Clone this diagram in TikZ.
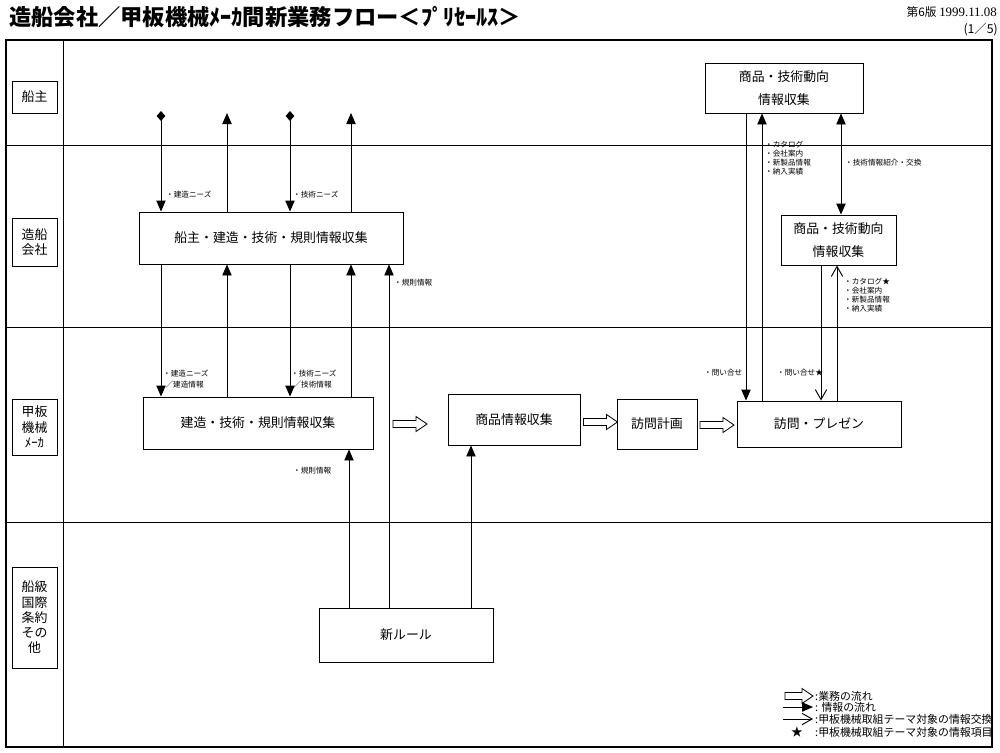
\documentclass[tikz,border=0pt]{standalone}
\usepackage{fontspec}
\setmainfont{Noto Sans CJK JP}
\newfontfamily\datefont{Liberation Serif}
\usetikzlibrary{arrows.meta}

\tikzset{
    pics/flowarrow/.style={code={
        \draw[line width=0.7pt, fill=white] (-#1,-3.5) -- (#1-11,-3.5) -- (#1-11,-7.5) -- (#1,0)
            -- (#1-11,7.5) -- (#1-11,3.5) -- (-#1,3.5) -- cycle;
    }}
}

\begin{document}
\begin{tikzpicture}[x=0.03cm, y=-0.03cm,
    proc/.style={rectangle, draw, line width=0.8pt, inner sep=0pt, align=center, font=\fontsize{11}{13}\selectfont},
    lane/.style={rectangle, draw, line width=0.6pt, minimum width=1.35cm, inner sep=0pt, align=center, font=\fontsize{11}{13}\selectfont},
    info/.style={-{Triangle[length=0.33cm,width=0.28cm]}, line width=0.8pt},
    both/.style={{Triangle[length=0.33cm,width=0.28cm]}-{Triangle[length=0.33cm,width=0.28cm]}, line width=0.8pt},
    need/.style={{Diamond[length=0.3cm,width=0.26cm]}-{Triangle[length=0.33cm,width=0.28cm]}, line width=0.8pt},
    xchg/.style={-{Straight Barb[length=0.3cm,width=0.34cm,line width=0.8pt]}, line width=0.8pt},
    note/.style={anchor=west, align=left, inner sep=0pt, font=\fontsize{6.5}{9.5}\selectfont},
    legend/.style={anchor=west, inner sep=0pt, font=\fontsize{9.3}{10}\selectfont}
]
    \useasboundingbox (0,0) rectangle (1000,753);

    % Frame
    \draw[line width=1pt] (6,40) rectangle (992,747);
    \draw[line width=0.8pt] (63,40) -- (63,747);
    \foreach \y in {145,327,522} \draw[line width=0.8pt] (6,\y) -- (992,\y);

    % Header
    \node[anchor=west, inner sep=0pt, font=\fontsize{19}{22}\selectfont\bfseries] (title) at (9,17) {造船会社／甲板機械ﾒｰｶ間新業務フロー＜ﾌﾟﾘｾｰﾙｽ＞};
    \node[anchor=east, inner sep=0pt, font=\fontsize{10}{12}\selectfont] (issue) at (997,12) {第6版 {\datefont\fontsize{11}{12}\selectfont 1999.11.08}};
    \node[anchor=east, inner sep=0pt, font=\fontsize{10.5}{12}\selectfont] (page) at (998,30) {(1／5)};

    % Lanes
    \node[lane, minimum height=0.96cm] (owner) at (34.5,97) {船主};
    \node[lane, minimum height=1.44cm] (yard) at (34.5,242) {造船\\会社};
    \node[lane, minimum height=1.68cm] (maker) at (34.5,427) {甲板\\機械\\ﾒｰｶ};
    \node[lane, minimum height=3.03cm] (rule) at (34.5,617.5) {船級\\国際\\条約\\その\\他};

    % Nodes
    \node[proc, minimum width=7.92cm, minimum height=1.56cm] (yardinfo) at (271,238) {船主・建造・技術・規則情報収集};
    \node[proc, minimum width=6.9cm, minimum height=1.56cm] (makerinfo) at (258,423) {建造・技術・規則情報収集};
    \node[proc, minimum width=3.96cm, minimum height=1.53cm] (goods) at (514,419.5) {商品情報収集};
    \node[proc, minimum width=2.4cm, minimum height=1.5cm] (plan) at (657,424) {訪問計画};
    \node[proc, minimum width=4.92cm, minimum height=1.38cm] (visit) at (819,424) {訪問・プレゼン};
    \node[proc, minimum width=5.22cm, minimum height=1.62cm] (newrule) at (406,635) {新ルール};
    \node[proc, minimum width=4.74cm, minimum height=1.5cm] (ownertrend) at (784,88) {商品・技術動向\\[7pt]情報収集};
    \node[proc, minimum width=3.45cm, minimum height=1.5cm] (yardtrend) at (838.5,240) {商品・技術動向\\[7pt]情報収集};

    % Business flow
    \pic at (410,424) {flowarrow=17};
    \pic at (600.5,422) {flowarrow=17};
    \pic at (717,425) {flowarrow=17};

    % Columns
    \coordinate (bn) at (161,111);
    \coordinate (bi) at (227,113);
    \coordinate (tn) at (290,111);
    \coordinate (ti) at (351,113);
    \coordinate (r1) at (349,0);
    \coordinate (r2) at (389,0);
    \coordinate (r3) at (471,0);
    \coordinate (q1) at (746,0);
    \coordinate (q2) at (762,0);
    \coordinate (q3) at (821,0);
    \coordinate (q4) at (837,0);
    \coordinate (q5) at (841,0);

    % Relations
    \draw[need] (bn) -- (bn |- yardinfo.north);
    \draw[info] (bi |- yardinfo.north) -- (bi);
    \draw[need] (tn) -- (tn |- yardinfo.north);
    \draw[info] (ti |- yardinfo.north) -- (ti);

    \draw[info] (bn |- yardinfo.south) -- (bn |- makerinfo.north);
    \draw[info] (bi |- makerinfo.north) -- (bi |- yardinfo.south);
    \draw[info] (tn |- yardinfo.south) -- (tn |- makerinfo.north);
    \draw[info] (ti |- makerinfo.north) -- (ti |- yardinfo.south);

    \draw[info] (r1 |- newrule.north) -- (r1 |- makerinfo.south);
    \draw[info] (r2 |- newrule.north) -- (r2 |- yardinfo.south);
    \draw[info] (r3 |- newrule.north) -- (r3 |- goods.south);

    \draw[info] (q1 |- ownertrend.south) -- (q1 |- visit.north);
    \draw[info] (q2 |- visit.north) -- (q2 |- ownertrend.south);
    \draw[both] (q5 |- ownertrend.south) -- (q5 |- yardtrend.north);
    \draw[xchg] (q3 |- yardtrend.south) -- (q3 |- visit.north);
    \draw[xchg] (q4 |- visit.north) -- (q4 |- yardtrend.south);

    % Labels
    \node[note] (l1) at (166,195) {・建造ニーズ};
    \node[note] (l2) at (293,195) {・技術ニーズ};
    \node[note] (l3) at (394,283) {・規則情報};
    \node[note] (l4) at (163,379) {・建造ニーズ\\\hspace*{2pt}／建造情報};
    \node[note] (l5) at (291,379) {・技術ニーズ\\\hspace*{2pt}／技術情報};
    \node[note] (l6) at (293,471) {・規則情報};
    \node[note] (l7) at (704,373) {・問い合せ};
    \node[note] (l8) at (777,373) {・問い合せ★};
    \node[note, font=\fontsize{6.5}{7.8}\selectfont] (l9) at (765,158) {・カタログ\\・会社案内\\・新製品情報\\・納入実績};
    \node[note] (l10) at (845,163) {・技術情報紹介・交換};
    \node[note, font=\fontsize{6.5}{7.8}\selectfont] (l11) at (844,295) {・カタログ★\\・会社案内\\・新製品情報\\・納入実績};

    % Legend
    \begin{scope}
        \clip (6,40) rectangle (992,747);
        \pic at (799,696) {flowarrow=14};
        \coordinate (lg2a) at (783,707);
        \coordinate (lg2b) at (813,707);
        \draw[info] (lg2a) -- (lg2b);
        \coordinate (lg3a) at (783,719);
        \coordinate (lg3b) at (813,719);
        \draw[xchg] (lg3a) -- (lg3b);
        \node[inner sep=0pt, font=\fontsize{10}{11}\selectfont] (lg4) at (797,732) {★};
        \node[legend] (t1) at (815,696) {:業務の流れ};
        \node[legend] (t2) at (815,707) {: 情報の流れ};
        \node[legend] (t3) at (815,719) {:甲板機械取組テーマ対象の情報交換};
        \node[legend] (t4) at (815,732) {:甲板機械取組テーマ対象の情報項目};
    \end{scope}
\end{tikzpicture}
\end{document}
